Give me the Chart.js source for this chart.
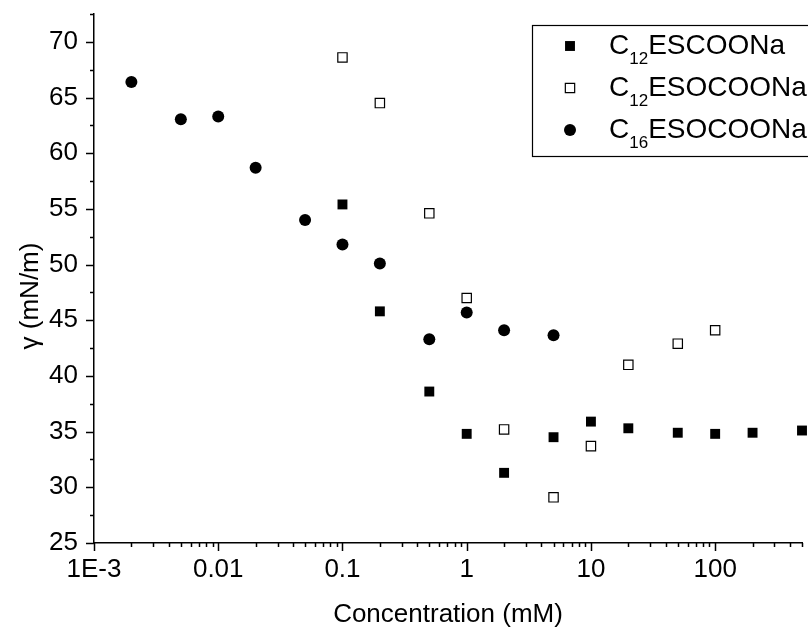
<!DOCTYPE html>
<html>
<head>
<meta charset="utf-8">
<script src="https://cdn.jsdelivr.net/npm/chart.js@4.4.1/dist/chart.umd.min.js"></script>
<style>
html, body { margin: 0; padding: 0; overflow: hidden; background: #fff; }
#wrap { width: 820px; height: 628px; }
</style>
</head>
<body>
<div id="wrap"><canvas id="chart" width="820" height="628"></canvas></div>
<script>
// concentrations (mM) and surface tension (mN/m)
const concC12ES = [0.1, 0.2, 0.5, 1, 2, 5, 10, 20, 50, 100, 200, 500];
const gammaC12ES = [55.4, 45.8, 38.6, 34.8, 31.3, 34.5, 35.9, 35.3, 34.9, 34.8, 34.9, 35.1];

const concC12ESO = [0.1, 0.2, 0.5, 1, 2, 5, 10, 20, 50, 100];
const gammaC12ESO = [68.6, 64.5, 54.6, 47.0, 35.2, 29.1, 33.7, 41.0, 42.9, 44.1];

const concC16ESO = [0.002, 0.005, 0.01, 0.02, 0.05, 0.1, 0.2, 0.5, 1, 2, 5];
const gammaC16ESO = [66.4, 63.05, 63.3, 58.7, 54.0, 51.8, 50.1, 43.3, 45.7, 44.1, 43.65];

// legend names split as [base, subscript, rest]
const seriesNames = [
    ['C', '12', 'ESCOONa'],
    ['C', '12', 'ESOCOONa'],
    ['C', '16', 'ESOCOONa']
];

const xTickValues = [0.001, 0.01, 0.1, 1, 10, 100];
const xTickLabels = ['1E-3', '0.01', '0.1', '1', '10', '100'];
const yTickValues = [25, 30, 35, 40, 45, 50, 55, 60, 65, 70];
const yTitle = 'γ (mN/m)';

const FONT = "'Liberation Sans', Arial, sans-serif";

function toPoints(xs, ys) {
    return xs.map((x, i) => ({ x: x, y: ys[i] }));
}

// draws the outward major / minor tick marks of both axes, plus the y title
const axisTicks = {
    id: 'axisTicks',
    afterDraw(chart) {
        const { ctx, scales: { x, y } } = chart;
        const area = chart.chartArea;
        ctx.save();
        ctx.strokeStyle = '#000';
        ctx.lineWidth = 1.5;
        ctx.beginPath();
        for (let v = y.min; v <= y.max + 0.01; v += 2.5) {
            const py = Math.round(y.getPixelForValue(v)) + 0.5;
            const len = (v % 5 === 0) ? 8 : 4;
            ctx.moveTo(area.left, py);
            ctx.lineTo(area.left - len, py);
        }
        for (let e = -3; e <= 2; e++) {
            for (let k = 1; k <= 9; k++) {
                const v = k * Math.pow(10, e);
                if (v > x.max) break;
                const px = Math.round(x.getPixelForValue(v)) + 0.5;
                const len = (k === 1) ? 8 : 4;
                ctx.moveTo(px, area.bottom);
                ctx.lineTo(px, area.bottom + len);
            }
        }
        ctx.stroke();

        // y axis title sits a bit below the middle of the axis in the original
        ctx.translate(31, 296);
        ctx.rotate(-Math.PI / 2);
        ctx.fillStyle = '#000';
        ctx.font = '26px ' + FONT;
        ctx.textAlign = 'center';
        ctx.textBaseline = 'middle';
        ctx.fillText(yTitle, 0, 0);
        ctx.restore();
    }
};

// boxed legend with subscripted names
const subLegend = {
    id: 'subLegend',
    afterDraw(chart) {
        const ctx = chart.ctx;
        const left = 532, top = 25, bottom = 156;
        ctx.save();
        ctx.strokeStyle = '#000';
        ctx.lineWidth = 1.2;
        ctx.strokeRect(left + 0.5, top + 0.5, 400, bottom - top);
        const rowY = [46, 88, 130];
        chart.data.datasets.forEach((ds, i) => {
            ctx.fillStyle = ds.backgroundColor;
            ctx.strokeStyle = ds.borderColor;
            ctx.lineWidth = ds.borderWidth;
            ctx.beginPath();
            const s = ds.pointRadius / Math.SQRT2;
            if (ds.pointStyle === 'rect') {
                ctx.rect(570 - s, rowY[i] - s, 2 * s, 2 * s);
            } else {
                ctx.arc(570, rowY[i], ds.pointRadius, 0, Math.PI * 2);
            }
            ctx.fill();
            if (ds.borderWidth > 0) ctx.stroke();

            const [base, sub, rest] = seriesNames[i];
            let tx = 609;
            ctx.fillStyle = '#000';
            ctx.textBaseline = 'middle';
            ctx.textAlign = 'left';
            ctx.font = '28px ' + FONT;
            ctx.fillText(base, tx, rowY[i]);
            tx += ctx.measureText(base).width;
            ctx.font = '17px ' + FONT;
            ctx.fillText(sub, tx, rowY[i] + 13);
            tx += ctx.measureText(sub).width;
            ctx.font = '28px ' + FONT;
            ctx.fillText(rest, tx, rowY[i]);
        });
        ctx.restore();
    }
};

const ctx = document.getElementById('chart').getContext('2d');
new Chart(ctx, {
    type: 'scatter',
    data: {
        datasets: [
            {
                label: 'C₁₂ESCOONa',
                data: toPoints(concC12ES, gammaC12ES),
                pointStyle: 'rect',
                pointRadius: 7,
                backgroundColor: '#000',
                borderColor: '#000',
                borderWidth: 0,
                clip: false
            },
            {
                label: 'C₁₂ESOCOONa',
                data: toPoints(concC12ESO, gammaC12ESO),
                pointStyle: 'rect',
                pointRadius: 6.6,
                backgroundColor: '#fff',
                borderColor: '#000',
                borderWidth: 1.2,
                clip: false
            },
            {
                label: 'C₁₆ESOCOONa',
                data: toPoints(concC16ESO, gammaC16ESO),
                pointStyle: 'circle',
                pointRadius: 6,
                backgroundColor: '#000',
                borderColor: '#000',
                borderWidth: 0,
                clip: false
            }
        ]
    },
    options: {
        responsive: false,
        animation: false,
        layout: { padding: { left: 0, top: 14, right: 18, bottom: 0 } },
        plugins: {
            legend: { display: false },
            tooltip: { enabled: false }
        },
        elements: { point: { hoverRadius: 6 } },
        scales: {
            x: {
                type: 'logarithmic',
                min: 0.001,
                max: 500,
                afterFit: (scale) => {
                    scale.height = 85;
                    scale.paddingLeft = 0;
                    scale.paddingRight = 0;
                },
                afterBuildTicks: (scale) => {
                    scale.ticks = xTickValues.map(v => ({ value: v }));
                },
                grid: { display: false, drawTicks: false },
                border: { display: true, color: '#000', width: 1.5 },
                ticks: {
                    autoSkip: false,
                    maxRotation: 0,
                    padding: 11,
                    color: '#000',
                    font: { family: FONT, size: 26 },
                    callback: (v) => {
                        const i = xTickValues.indexOf(v);
                        return i >= 0 ? xTickLabels[i] : '';
                    }
                },
                title: {
                    display: true,
                    text: 'Concentration (mM)',
                    color: '#000',
                    font: { family: FONT, size: 26, lineHeight: 1 },
                    padding: { top: 0, bottom: 0 }
                }
            },
            y: {
                min: 25,
                max: 72.5,
                afterFit: (scale) => {
                    scale.width = 94;
                    scale.paddingTop = 0;
                    scale.paddingBottom = 0;
                },
                afterBuildTicks: (scale) => {
                    scale.ticks = yTickValues.map(v => ({ value: v }));
                },
                grid: { display: false, drawTicks: false },
                border: { display: true, color: '#000', width: 1.5 },
                ticks: {
                    padding: 16,
                    color: '#000',
                    font: { family: FONT, size: 26 }
                }
            }
        }
    },
    plugins: [axisTicks, subLegend]
});
</script>
</body>
</html>
